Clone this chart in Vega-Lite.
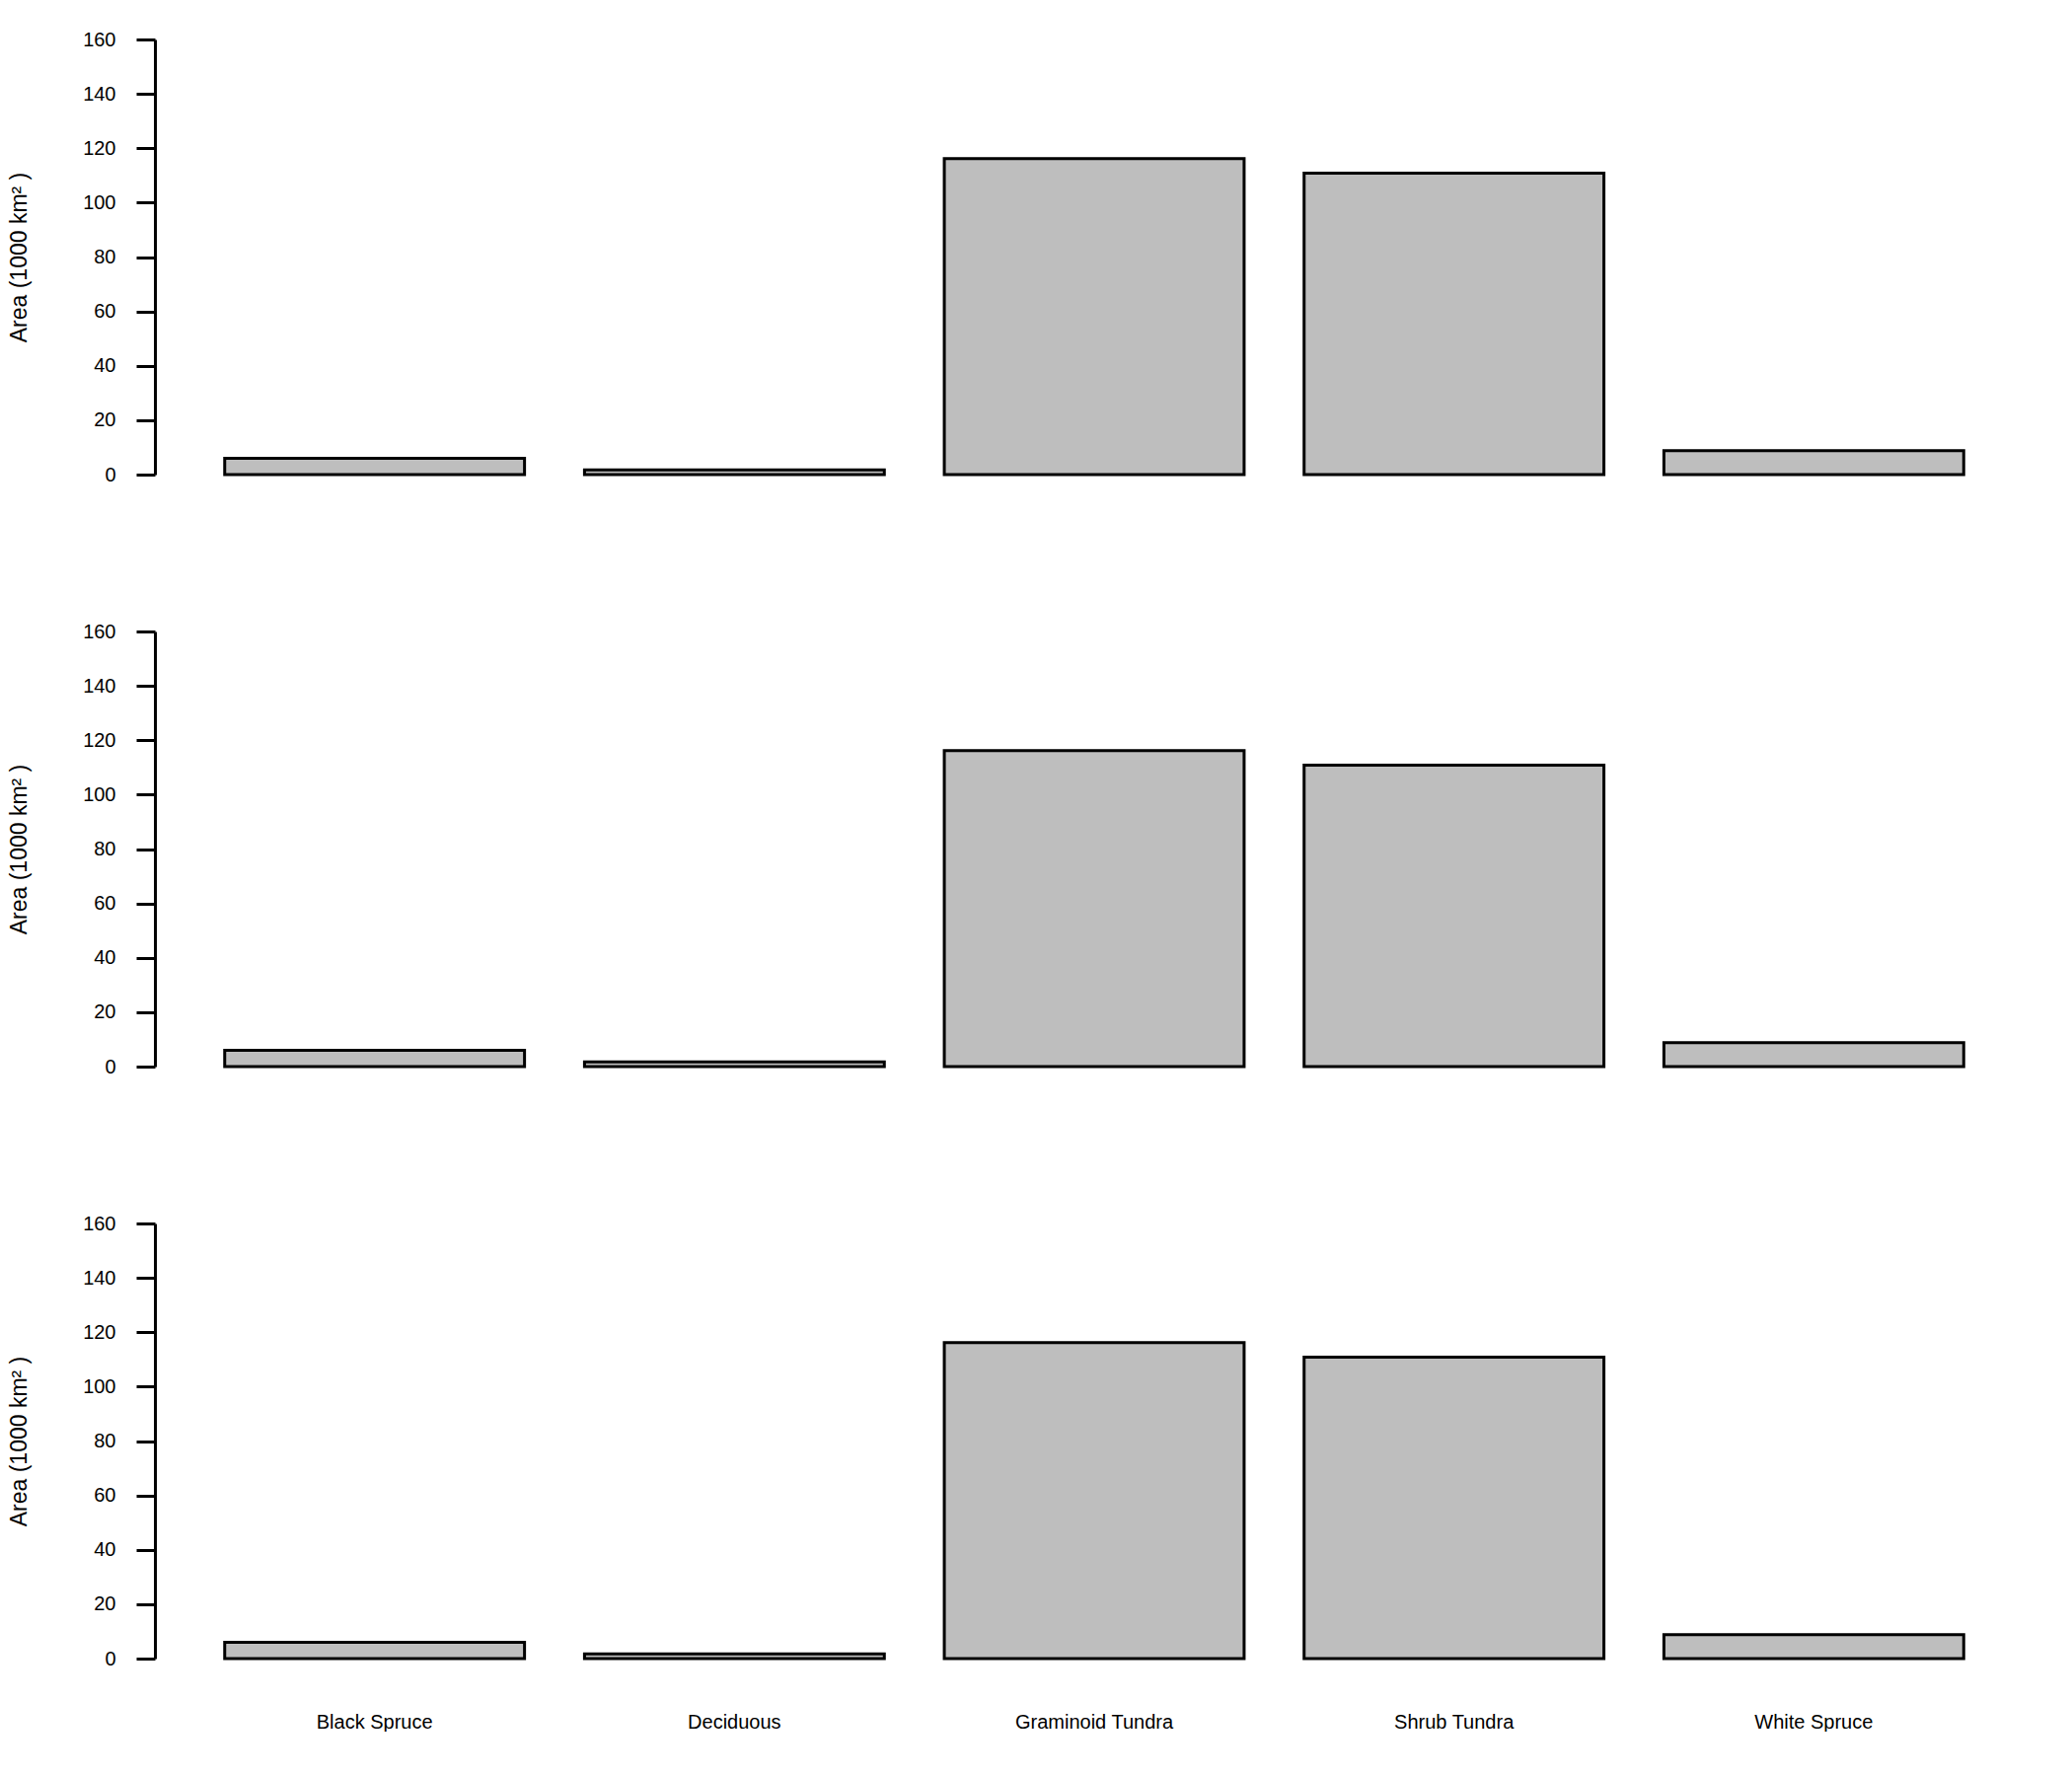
{
  "$schema": "https://vega.github.io/schema/vega-lite/v6.json",
  "background": "white",
  "padding": {"left": 8, "top": 30, "right": 0, "bottom": 0},
  "data": {"values": [
    {"panel": 1, "type": "Black Spruce", "area": 6.0},
    {"panel": 1, "type": "Deciduous", "area": 1.7},
    {"panel": 1, "type": "Graminoid Tundra", "area": 116.2},
    {"panel": 1, "type": "Shrub Tundra", "area": 110.8},
    {"panel": 1, "type": "White Spruce", "area": 8.8},
    {"panel": 2, "type": "Black Spruce", "area": 6.0},
    {"panel": 2, "type": "Deciduous", "area": 1.7},
    {"panel": 2, "type": "Graminoid Tundra", "area": 116.2},
    {"panel": 2, "type": "Shrub Tundra", "area": 110.8},
    {"panel": 2, "type": "White Spruce", "area": 8.8},
    {"panel": 3, "type": "Black Spruce", "area": 6.0},
    {"panel": 3, "type": "Deciduous", "area": 1.7},
    {"panel": 3, "type": "Graminoid Tundra", "area": 116.2},
    {"panel": 3, "type": "Shrub Tundra", "area": 110.8},
    {"panel": 3, "type": "White Spruce", "area": 8.8}
  ]},
  "facet": {"row": {"field": "panel", "type": "ordinal", "header": {"title": null, "labels": false}}},
  "spacing": {"row": 157},
  "spec": {
    "width": 1904,
    "height": 441,
    "mark": {"type": "bar", "fill": "#BEBEBE", "stroke": "black", "strokeWidth": 3},
    "encoding": {
      "x": {
        "field": "type", "type": "nominal", "sort": null,
        "scale": {"paddingInner": 0.1667, "paddingOuter": 0.194},
        "axis": {"title": null, "domain": false, "ticks": false, "labelAngle": 0, "labelPadding": 52,
                 "labelFont": "Liberation Sans", "labelFontSize": 20, "labelColor": "black"}
      },
      "y": {
        "field": "area", "type": "quantitative",
        "scale": {"domain": [0, 160], "nice": false},
        "axis": {
          "title": "Area (1000 km² )", "values": [0, 20, 40, 60, 80, 100, 120, 140, 160],
          "grid": false, "domainColor": "black", "domainWidth": 3, "tickColor": "black", "tickWidth": 3,
          "tickSize": 19, "labelPadding": 21, "labelFont": "Liberation Sans", "labelFontSize": 20,
          "labelColor": "black", "titleFont": "Liberation Sans", "titleFontSize": 23,
          "titleFontWeight": "normal", "titleColor": "black", "titleAngle": 270,
          "titleAlign": "center", "titleBaseline": "middle", "titleX": -138, "titleY": 220.5
        }
      }
    }
  },
  "config": {"view": {"stroke": null}}
}
